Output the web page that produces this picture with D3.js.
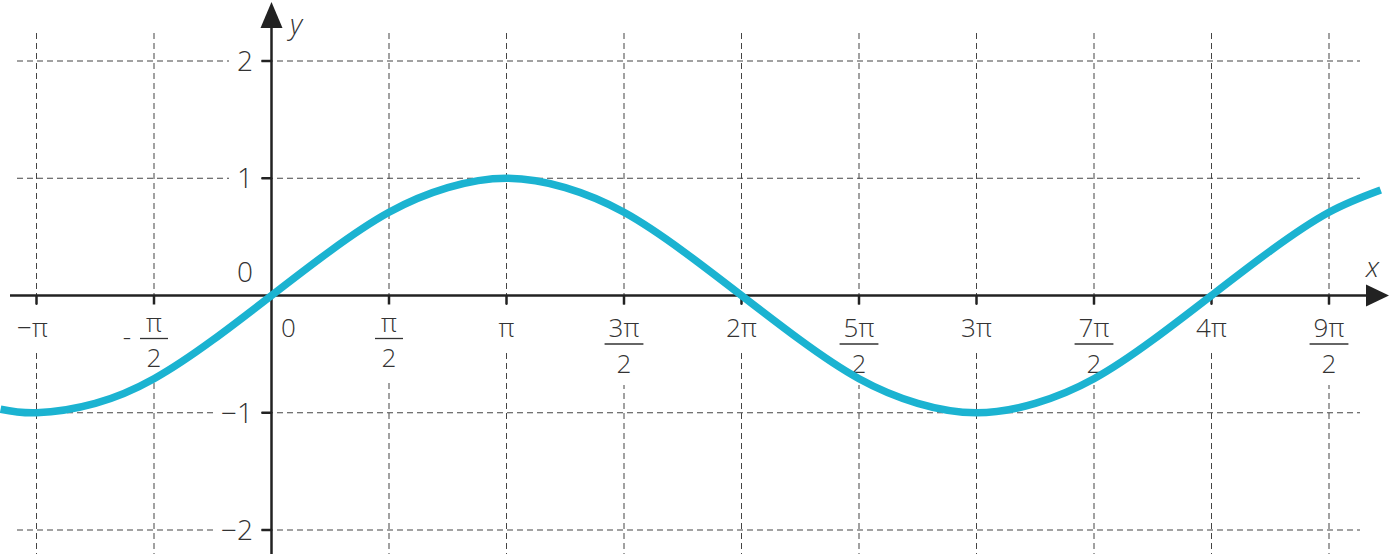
<!DOCTYPE html>
<html><head><meta charset="utf-8">
<script src="https://cdn.jsdelivr.net/npm/d3@7"></script>
<style>body{margin:0;background:#fff}svg{display:block}</style>
</head><body>
<svg id="c" width="1389" height="554"></svg>
<script>
// x tick values in multiples of π
const xTicks = [-1, -0.5, 0, 0.5, 1, 1.5, 2, 2.5, 3, 3.5, 4, 4.5];
// x tick labels: [sign, numerator, denominator]
const xTickLabels = [["−π"], ["-", "π", "2"], ["0"], ["", "π", "2"], ["π"], ["", "3π", "2"], ["2π"], ["", "5π", "2"], ["3π"], ["", "7π", "2"], ["4π"], ["", "9π", "2"]];
const yTicks = [-2, -1, 0, 1, 2];
const yTickLabels = ["−2", "−1", "0", "1", "2"];
// curve samples (x in multiples of π)
const curveX = [-1.153, -1, -0.75, -0.5, -0.25, 0, 0.25, 0.5, 0.75, 1, 1.25, 1.5, 1.75, 2, 2.25, 2.5, 2.75, 3, 3.25, 3.5, 3.75, 4, 4.25, 4.5, 4.72];
const curveY = [-0.97, -1, -0.92, -0.71, -0.38, 0, 0.38, 0.71, 0.92, 1, 0.92, 0.71, 0.38, 0, -0.38, -0.71, -0.92, -1, -0.92, -0.71, -0.38, 0, 0.38, 0.71, 0.90];

const svg = d3.select("#c");
const x = d3.scaleLinear().domain([-1, 4.5]).range([36.5, 1329]);
const y = d3.scaleLinear().domain([-2, 2]).range([530, 61]);
const X0 = x(0), Y0 = y(0);
const font = "'Open Sans', sans-serif";
const txtCol = "#333";
const gridCol = "#444";

// grid
const grid = svg.append("g");
grid.selectAll("line.v").data(xTicks.filter(d => d !== 0)).join("line")
  .attr("x1", d => x(d)).attr("x2", d => x(d)).attr("y1", 33).attr("y2", 554)
  .attr("stroke", gridCol).attr("stroke-width", 1).attr("stroke-dasharray", "6,4");
grid.selectAll("line.h").data(yTicks.filter(d => d !== 0)).join("line")
  .attr("y1", d => y(d)).attr("y2", d => y(d)).attr("x1", 17).attr("x2", 1360)
  .attr("stroke", gridCol).attr("stroke-width", 1).attr("stroke-dasharray", "6,4");

function txt(g, tx, ty, s, size, anchor) {
  return g.append("text").attr("x", tx).attr("y", ty).attr("text-anchor", anchor || "middle")
    .attr("font-family", font).attr("font-weight", 300).attr("font-size", size).attr("fill", txtCol).text(s);
}

// x labels
const labels = svg.append("g");
xTicks.forEach((v, i) => {
  const lab = xTickLabels[i];
  const g = labels.append("g");
  const cx = v === 0 ? X0 + 17 : x(v);
  if (lab.length === 1) {
    txt(g, cx - (v === -1 ? 4 : 0), 337, lab[0], 26);
  } else {
    const hasDigit = lab[1].length > 1;
    const nb = hasDigit ? 337 : 332, bar = hasDigit ? 344 : 338.5, db = hasDigit ? 373 : 367;
    const num = txt(g, cx, nb, lab[1], 26);
    txt(g, cx, db, lab[2], 26);
    const w = num.node().getBBox().width + (hasDigit ? 8 : 12);
    g.append("line").attr("x1", cx - w / 2).attr("x2", cx + w / 2).attr("y1", bar).attr("y2", bar)
      .attr("stroke", txtCol).attr("stroke-width", 1.3);
    if (lab[0]) txt(g, cx - 27, 346, lab[0], 26);
  }
  const bb = g.node().getBBox();
  g.insert("rect", ":first-child").attr("x", bb.x - 4).attr("y", bb.y - 4)
    .attr("width", bb.width + 8).attr("height", bb.height + 8).attr("fill", "#fff");
});

// y labels
yTicks.forEach((v, i) => {
  const g = labels.append("g");
  txt(g, 253, v === 0 ? 282 : y(v) + 10, yTickLabels[i], 28, "end");
  if (v !== 0) {
    const bb = g.node().getBBox();
    g.insert("rect", ":first-child").attr("x", bb.x - 8).attr("y", bb.y)
      .attr("width", bb.width + 16).attr("height", bb.height).attr("fill", "#fff");
  }
});

// axes
const axCol = "#222";
svg.append("line").attr("x1", 10).attr("x2", 1370).attr("y1", Y0).attr("y2", Y0).attr("stroke", axCol).attr("stroke-width", 2.5);
svg.append("line").attr("x1", X0).attr("x2", X0).attr("y1", 554).attr("y2", 20).attr("stroke", axCol).attr("stroke-width", 2.5);
svg.append("path").attr("d", `M${X0},2 L${X0 + 11},28 L${X0 - 11},28 Z`).attr("fill", axCol);
svg.append("path").attr("d", `M1389,${Y0} L1366,${Y0 - 11} L1366,${Y0 + 11} Z`).attr("fill", axCol);
// ticks
svg.append("g").selectAll("line").data(xTicks.filter(d => d !== 0)).join("line")
  .attr("x1", d => x(d)).attr("x2", d => x(d)).attr("y1", Y0).attr("y2", Y0 + 9)
  .attr("stroke", axCol).attr("stroke-width", 2.5);
svg.append("g").selectAll("line").data(yTicks.filter(d => d !== 0)).join("line")
  .attr("y1", d => y(d)).attr("y2", d => y(d)).attr("x1", X0 - 10).attr("x2", X0)
  .attr("stroke", axCol).attr("stroke-width", 2.5);

// axis titles
svg.append("text").attr("x", 290).attr("y", 34).attr("font-family", font).attr("font-style", "italic")
  .attr("font-weight", 300).attr("font-size", 28).attr("fill", txtCol).text("y");
svg.append("text").attr("x", 1366).attr("y", 277).attr("font-family", font).attr("font-style", "italic")
  .attr("font-weight", 300).attr("font-size", 28).attr("fill", txtCol).text("x");

// curve
const pts = curveX.map((d, i) => [d, curveY[i]]);
svg.append("path").datum(pts)
  .attr("d", d3.line().x(d => x(d[0])).y(d => y(d[1])).curve(d3.curveNatural))
  .attr("fill", "none").attr("stroke", "#1bb3d1").attr("stroke-width", 7.5).attr("stroke-linecap", "butt");
</script>
</body></html>
